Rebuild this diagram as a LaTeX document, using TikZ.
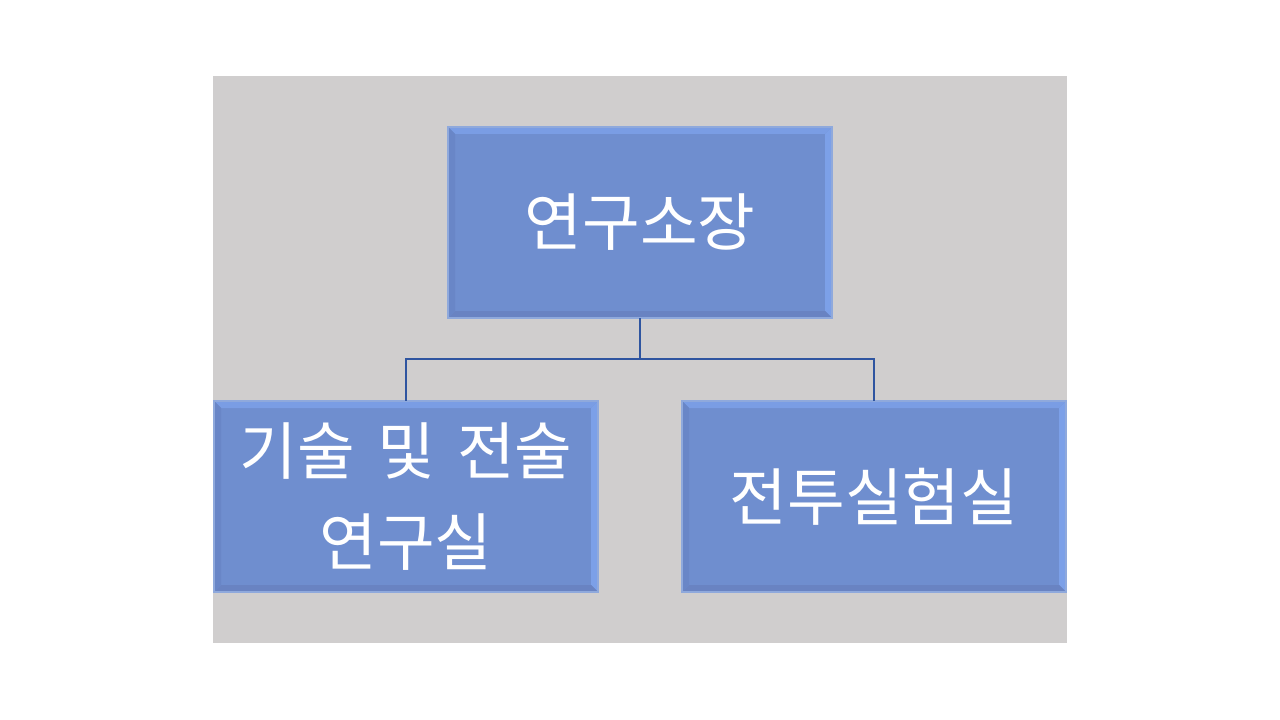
\documentclass[tikz,border=0pt]{standalone}
\usepackage{fontspec}
\usepackage{xcolor}
\usepackage{tikz}
\usetikzlibrary{calc}
\newfontfamily\kofont[WordSpace={1.6}]{Noto Sans CJK KR}
\definecolor{panel}{HTML}{D0CECE}
\definecolor{boxfill}{HTML}{6F8ECF}
\definecolor{boxedge}{HTML}{8FA9DC}
\definecolor{bevtop}{HTML}{7A9DE4}
\definecolor{bevright}{HTML}{7CA0E8}
\definecolor{bevbottom}{HTML}{6983C2}
\definecolor{bevleft}{HTML}{6986C7}
\definecolor{linkcol}{HTML}{2F55A0}
\tikzset{
  unit/.style={rectangle, fill=boxfill, draw=boxedge, line width=0.9pt,
    minimum width=288pt, minimum height=143.25pt, inner sep=0pt, outer sep=0pt,
    text=white, align=center, font=\kofont\fontsize{47}{68}\selectfont,
    path picture={
      \coordinate (nw) at (path picture bounding box.north west);
      \coordinate (se) at (path picture bounding box.south east);
      \coordinate (ne) at (path picture bounding box.north east);
      \coordinate (sw) at (path picture bounding box.south west);
      \fill[bevtop] (nw) -- (ne) -- ($(ne)+(-7,7)$) -- ($(nw)+(7,7)$) -- cycle;
      \fill[bevright] (ne) -- (se) -- ($(se)+(-7,-7)$) -- ($(ne)+(-7,7)$) -- cycle;
      \fill[bevbottom] (se) -- (sw) -- ($(sw)+(7,-7)$) -- ($(se)+(-7,-7)$) -- cycle;
      \fill[bevleft] (sw) -- (nw) -- ($(nw)+(7,7)$) -- ($(sw)+(7,-7)$) -- cycle;
    }},
  link/.style={draw=linkcol, line width=1.1pt},
}
\begin{document}
\begin{tikzpicture}[x=0.75pt,y=-0.75pt]
  \useasboundingbox (0,0) rectangle (1280,720);
  \fill[panel] (213,76) rectangle (1067,643); % backdrop

  \node[unit] (chief) at (640,222.5) {연구소장};
  \node[unit] (tech)  at (406,496.5) {기술 및 전술\\연구실};
  \node[unit] (lab)   at (874,496.5) {전투실험실};

  \coordinate (fork) at ($(chief.south)+(0,41)$);
  \draw[link] (chief.south) -- (fork);
  \draw[link] (fork) -| (tech.north);
  \draw[link] (fork) -| (lab.north);
\end{tikzpicture}
\end{document}
